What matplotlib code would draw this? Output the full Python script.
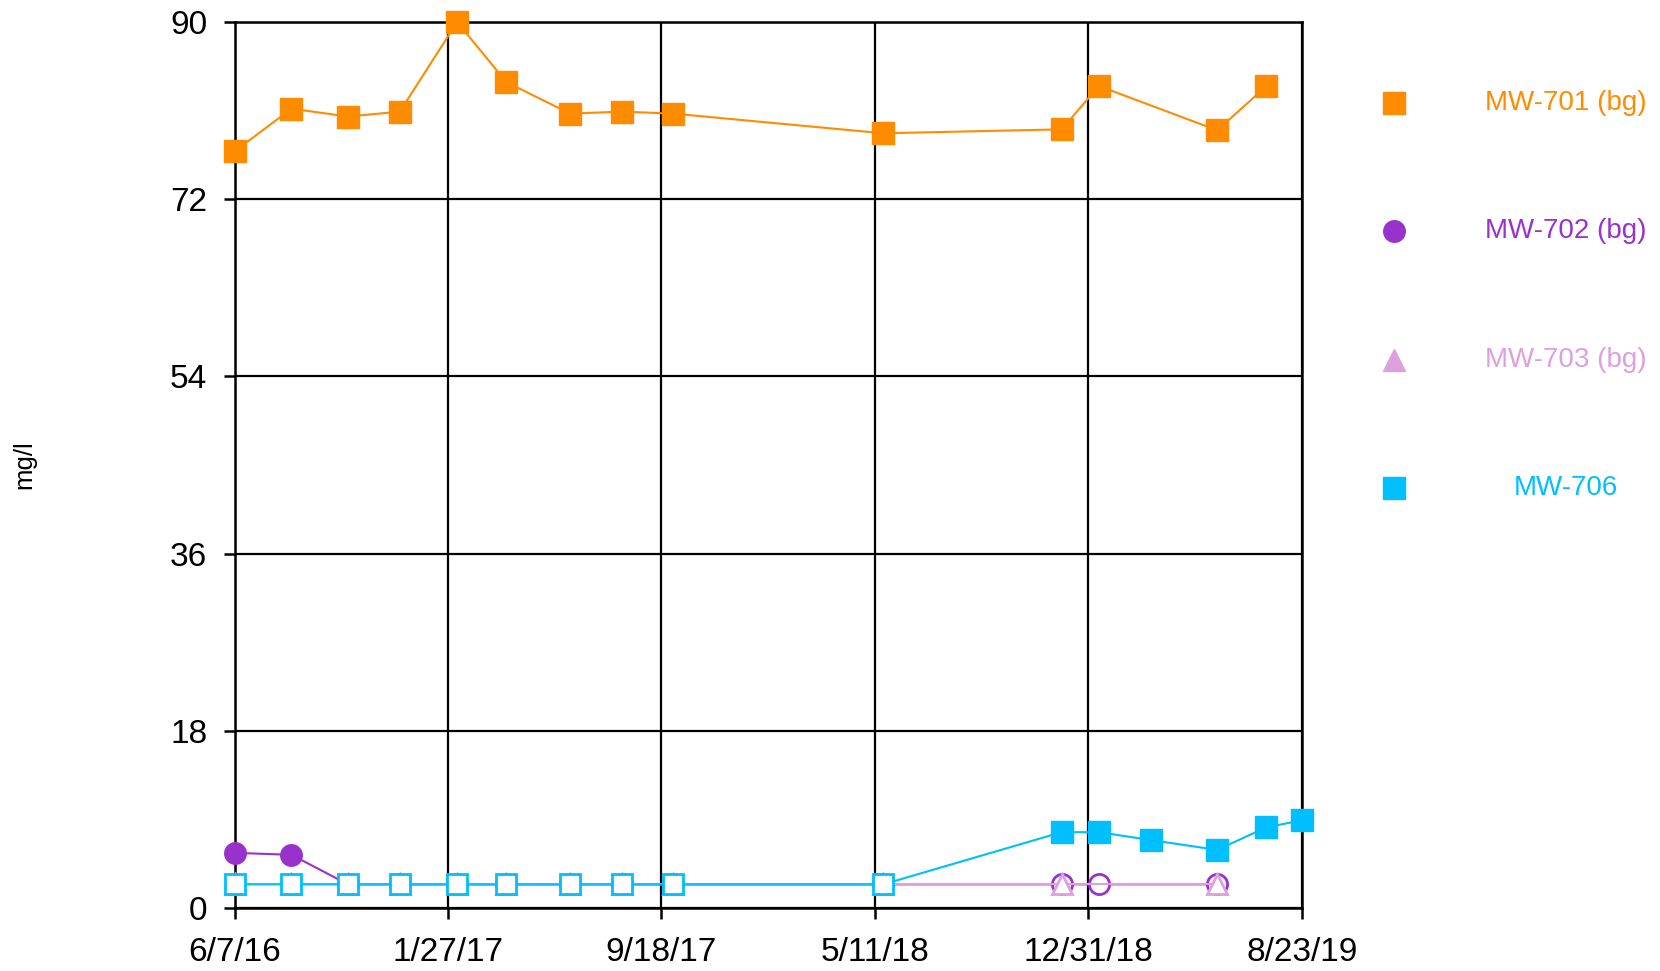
import numpy as np
import pandas as pd
import matplotlib
matplotlib.use("Agg")
import matplotlib.pyplot as plt
from matplotlib.lines import Line2D

plt.rcParams['font.family'] = ['Liberation Sans', 'DejaVu Sans']

# sample dates
d701 = ["2016-06-07", "2016-08-08", "2016-10-09", "2016-12-05", "2017-02-06", "2017-04-01",
        "2017-06-10", "2017-08-06", "2017-10-01", "2018-05-20", "2018-12-02", "2019-01-12",
        "2019-05-22", "2019-07-15"]
v701 = [76.9, 81.2, 80.4, 80.9, 90.0, 83.9, 80.7, 80.9, 80.7, 78.7, 79.1, 83.5, 79.0, 83.5]

d702 = d701[:13]
v702 = [5.6, 5.4, 2.4, 2.4, 2.4, 2.4, 2.4, 2.4, 2.4, 2.4, 2.4, 2.4, 2.4]
det702 = [True, True] + [False] * 11

d703 = d701[:11] + [d701[12]]
v703 = [2.4] * 12
det703 = [False] * 12

d706 = d701[:10] + ["2018-12-02", "2019-01-12", "2019-03-10", "2019-05-22", "2019-07-15", "2019-08-23"]
v706 = [2.4] * 10 + [7.7, 7.7, 6.9, 5.9, 8.2, 8.9]
det706 = [False] * 10 + [True] * 6

xticks = ["2016-06-07", "2017-01-27", "2017-09-18", "2018-05-11", "2018-12-31", "2019-08-23"]
yticks = [0, 18, 36, 54, 72, 90]

names = ["MW-701 (bg)", "MW-702 (bg)", "MW-703 (bg)", "MW-706"]
colors = ["#FF8C00", "#9932CC", "#DDA0DD", "#00BFFF"]
markers = ["s", "o", "^", "s"]

fig = plt.figure(figsize=(16.6, 9.71), dpi=100)
ax = fig.add_axes([0.1416, 0.0649, 0.6427, 0.9124])

series = [
    (d701, v701, [True] * len(v701)),
    (d702, v702, det702),
    (d703, v703, det703),
    (d706, v706, det706),
]

for i, (d, v, det) in enumerate(series):
    x = pd.to_datetime(d)
    v = np.array(v)
    det = np.array(det)
    c = colors[i]
    m = markers[i]
    z = 3 + i
    ax.plot(x, v, color=c, lw=1.5, zorder=z, clip_on=False)
    ax.plot(x[det], v[det], ls="none", marker=m, ms=15.5, mfc=c, mec=c,
            zorder=z + 0.5, clip_on=False)
    ax.plot(x[~det], v[~det], ls="none", marker=m, ms=14.5, mfc="white", mec=c,
            mew=2, zorder=z + 0.5, clip_on=False)

xt = pd.to_datetime(xticks)
ax.set_xlim(xt[0], xt[-1])
ax.set_ylim(0, 90)
ax.set_xticks(xt)
ax.set_xticklabels([f"{t.month}/{t.day}/{t.strftime('%y')}" for t in xt])
ax.set_yticks(yticks)
ax.grid(True, color="black", lw=1.6)
ax.set_axisbelow(True)
for s in ax.spines.values():
    s.set_linewidth(1.8)
ax.tick_params(axis="both", labelsize=24, length=8, width=1.8, direction="out")
ax.tick_params(axis="x", pad=13)
ax.tick_params(axis="y", pad=12)

fig.text(0.0145, 0.522, "mg/l", rotation=90, fontsize=18.5, ha="center", va="center")

# legend drawn by hand at the right
ly = [0.894, 0.762, 0.629, 0.497]
for i in range(4):
    fig.add_artist(Line2D([0.840], [ly[i]], transform=fig.transFigure, ls="none",
                          marker=markers[i], ms=15.5, mfc=colors[i], mec=colors[i]))
    fig.text(0.943, ly[i], names[i], color=colors[i], fontsize=20, ha="center", va="center")

fig.savefig("out.png", dpi=100)
